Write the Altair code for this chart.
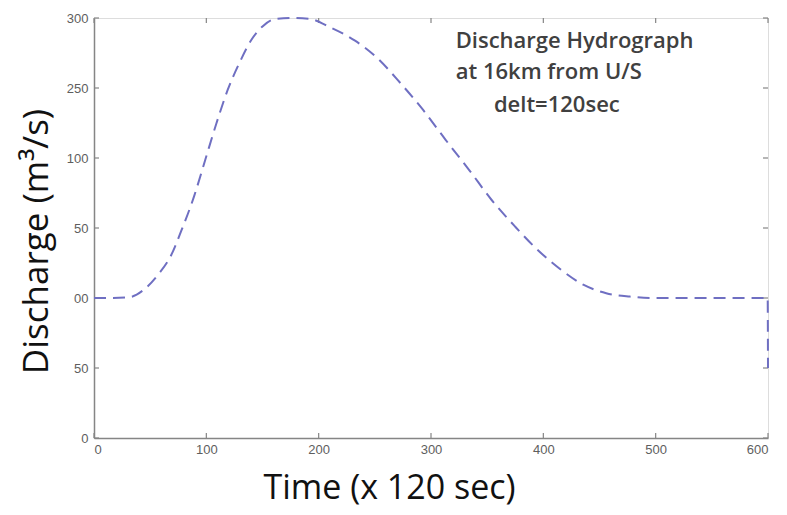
import altair as alt
import pandas as pd

# Hydrograph (time in units of 120 s, discharge m3/s)
time_vals = [0, 15, 31, 44, 58, 68, 78, 89, 99, 109, 119, 129.5, 140, 150, 160, 174, 191,
             211, 232, 252, 273, 293, 313, 334, 354, 375, 395, 416, 436, 456, 477, 497,
             550, 599.7, 600]
discharge_vals = [100, 100, 100.5, 105.7, 117.6, 129.5, 148.6, 172.4, 198.6, 224.8, 248.6,
                  268, 284.3, 294, 299, 300, 299.5, 293, 284, 271.5, 253.3, 234.3,
                  213, 191.4, 170, 150.9, 134.3, 120, 109.3, 103.4, 101, 100, 100, 100, 50]

x_ticks = [0, 100, 200, 300, 400, 500, 600]
y_ticks = [0, 50, 100, 150, 200, 250, 300]
y_tick_labels = ["0", "50", "00", "50", "100", "250", "300"]

note_lines = ["Discharge Hydrograph", "at 16km from U/S", "delt=120sec"]
note_t = [322, 322, 356]
note_q = [278.9, 256.4, 232.9]

W, H = 674, 420

df = pd.DataFrame({"t": time_vals, "q": discharge_vals, "i": list(range(len(time_vals)))})
xt = pd.DataFrame({"t": x_ticks})
yt = pd.DataFrame({"q": y_ticks, "lab": y_tick_labels})
notes = pd.DataFrame({"t": note_t, "q": note_q, "txt": note_lines})

label_map = "{" + ",".join(f"'{v}':'{l}'" for v, l in zip(y_ticks, y_tick_labels)) + "}"

xscale = alt.Scale(domain=[0, 600], nice=False, zero=False)
yscale = alt.Scale(domain=[0, 300], nice=False, zero=False)

gray = "#858585"
lab_color = "#5e5e5e"

line = alt.Chart(df).mark_line(
    color="#6f6fc2", strokeWidth=2, strokeDash=[12, 7], interpolate="monotone"
).encode(
    x=alt.X("t:Q", scale=xscale,
            axis=alt.Axis(values=x_ticks, title="Time (x 120 sec)", ticks=False, tickSize=0,
                          labelPadding=5, labelFontSize=13, labelColor=lab_color,
                          labelFont="Liberation Sans", grid=False, domainColor=gray,
                          domainWidth=1.5, titleFont="Open Sans", titleFontSize=34,
                          titleFontWeight="normal", titleColor="#111111",
                          titleX=295, titleY=60, titleAlign="center",
                          titleBaseline="alphabetic")),
    y=alt.Y("q:Q", scale=yscale,
            axis=alt.Axis(values=y_ticks, title="Discharge (m³/s)", ticks=False, tickSize=0,
                          labelPadding=6, labelFontSize=13, labelColor=lab_color,
                          labelFont="Liberation Sans", grid=False, domainColor=gray,
                          domainWidth=1.5, labelExpr=f"{label_map}[datum.value]",
                          titleFont="Open Sans", titleFontSize=35, titleFontWeight="normal",
                          titleColor="#111111", titleAngle=-90, titleX=-58, titleY=223,
                          titleAlign="center", titleBaseline="middle")),
    order="i:Q",
)

tick_b = alt.Chart(xt).mark_rule(color=gray, strokeWidth=1.2).encode(
    x=alt.X("t:Q", scale=xscale), y=alt.value(H), y2=alt.value(H - 5))
tick_t = alt.Chart(xt).mark_rule(color=gray, strokeWidth=1.2).encode(
    x=alt.X("t:Q", scale=xscale), y=alt.value(0), y2=alt.value(5))
tick_l = alt.Chart(yt).mark_rule(color=gray, strokeWidth=1.2).encode(
    y=alt.Y("q:Q", scale=yscale), x=alt.value(0), x2=alt.value(5))
tick_r = alt.Chart(yt).mark_rule(color=gray, strokeWidth=1.2).encode(
    y=alt.Y("q:Q", scale=yscale), x=alt.value(W), x2=alt.value(W - 5))

text = alt.Chart(notes).mark_text(
    align="left", baseline="alphabetic", font="Open Sans", fontSize=22,
    fontWeight=600, color="#404040"
).encode(x=alt.X("t:Q", scale=xscale), y=alt.Y("q:Q", scale=yscale), text="txt:N")

chart = alt.layer(tick_b, tick_t, tick_l, tick_r, line, text).properties(
    width=W, height=H,
    autosize=alt.AutoSizeParams(type="none"),
    padding={"left": 86, "top": 10, "right": 10, "bottom": 69},
).configure_view(stroke=gray, strokeWidth=1.5).configure(background="white")

chart.save("out.html", embed_options={"renderer": "svg", "actions": False})
